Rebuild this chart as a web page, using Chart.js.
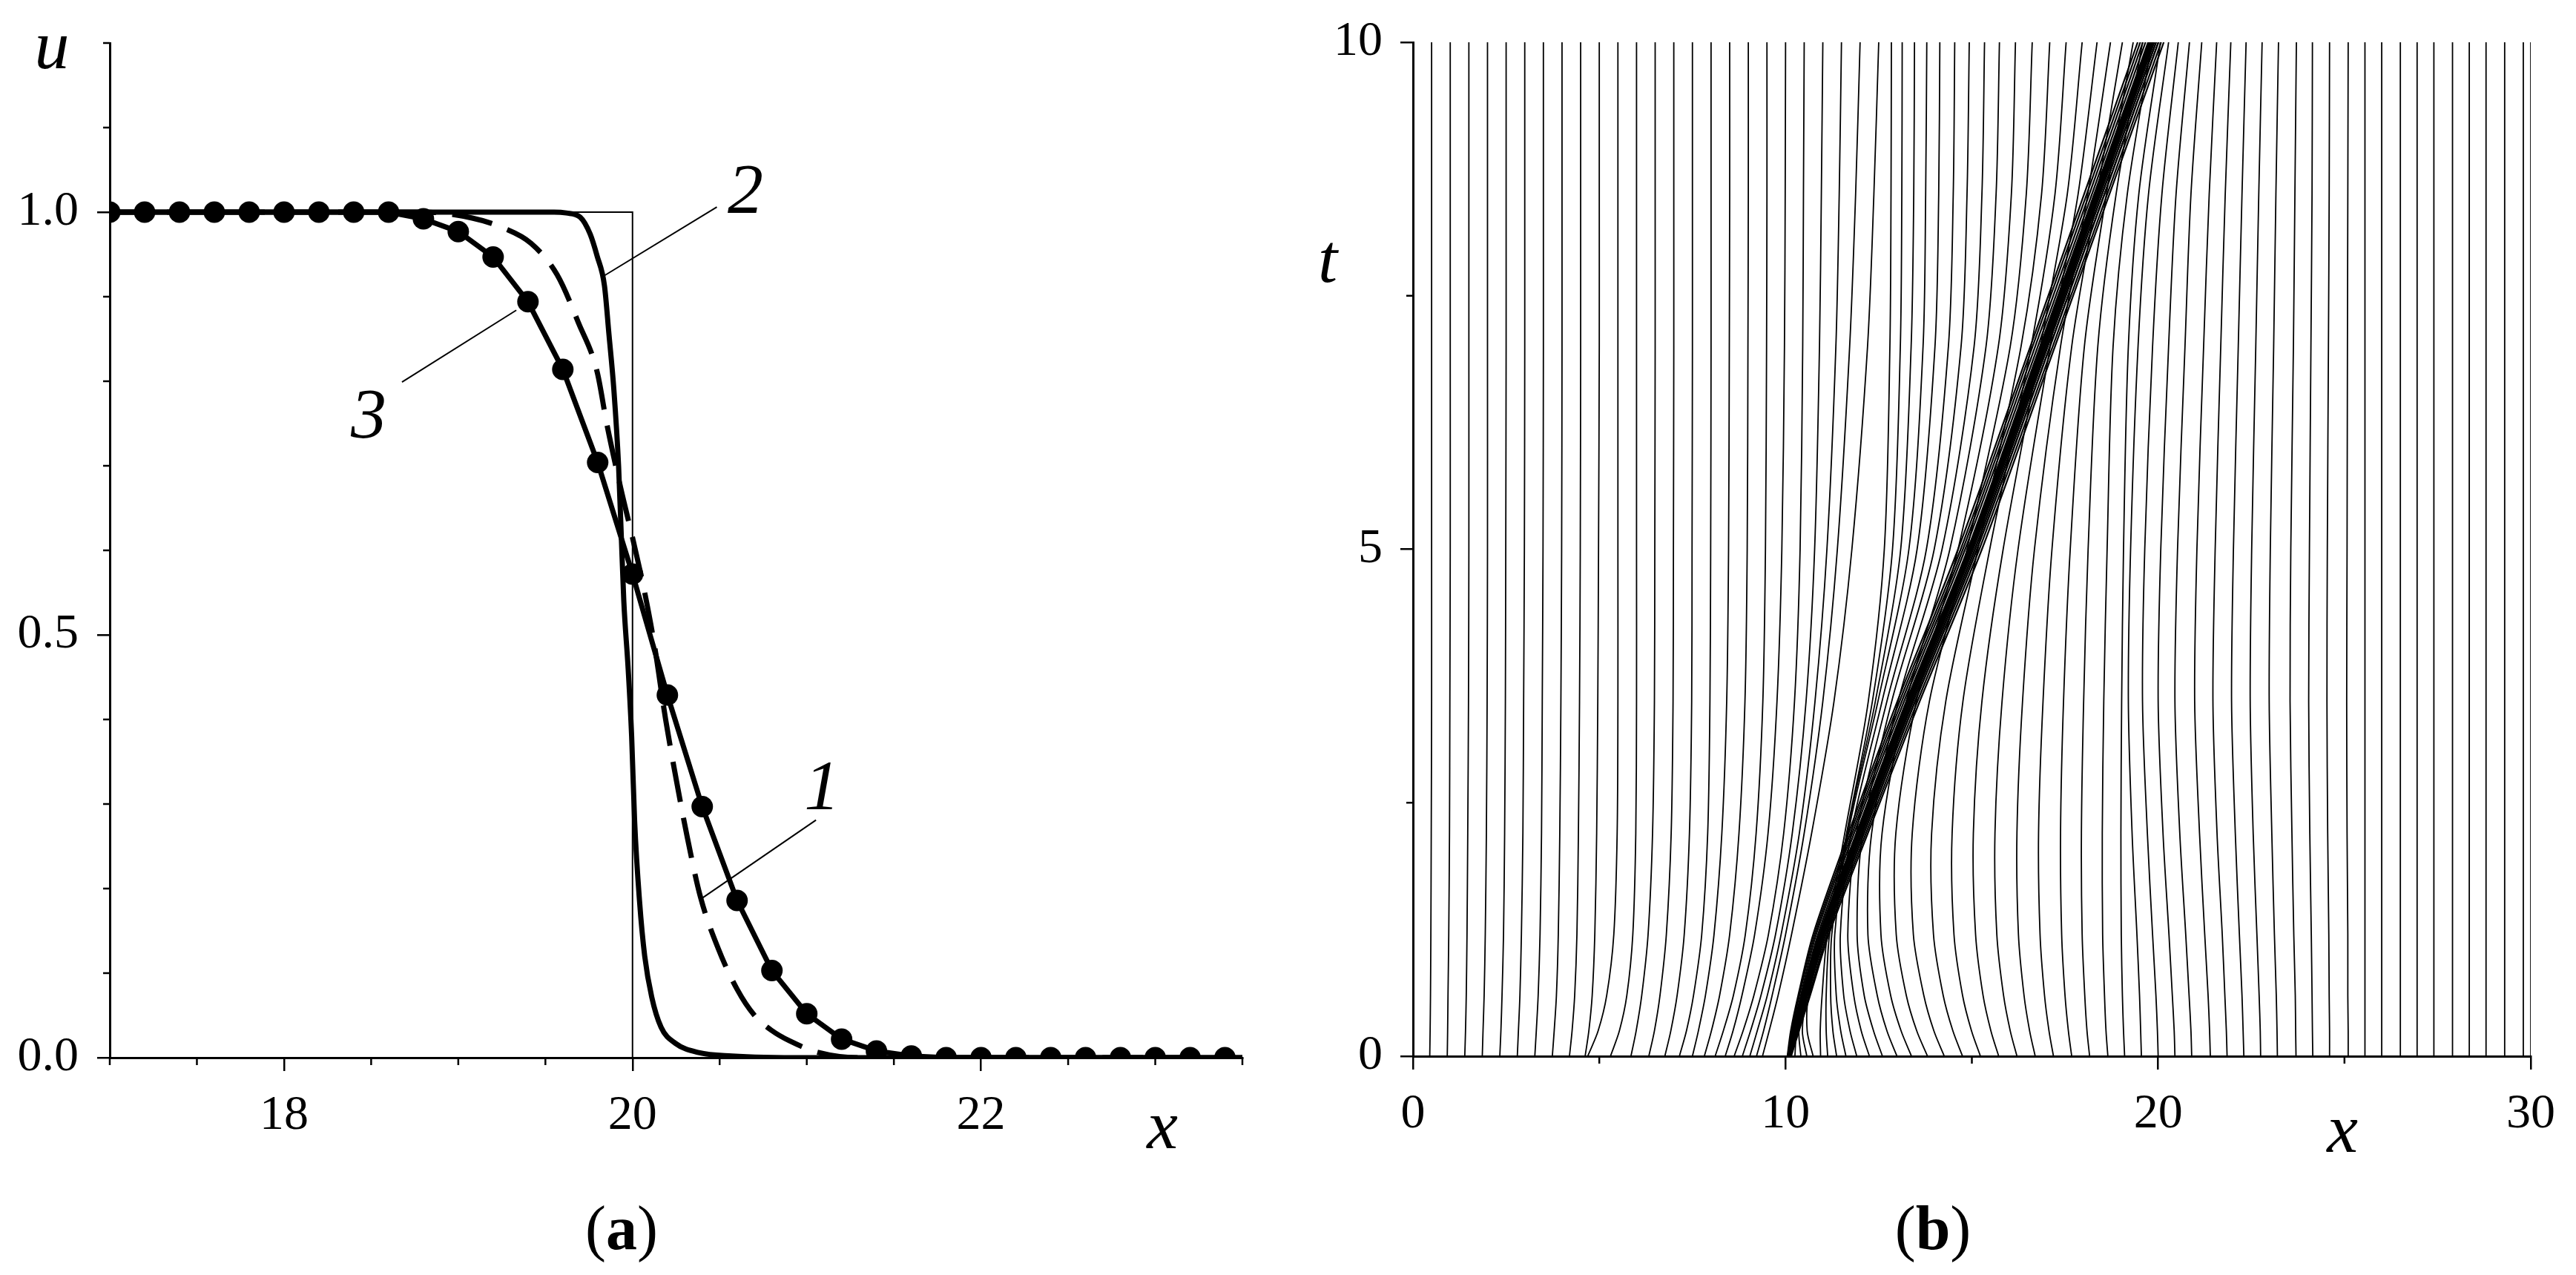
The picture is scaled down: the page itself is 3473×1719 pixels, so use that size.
<!DOCTYPE html>
<html>
<head>
<meta charset="utf-8">
<script src="https://cdn.jsdelivr.net/npm/chart.js@4.4.1/dist/chart.umd.min.js"></script>
<style>
  html, body { margin: 0; padding: 0; background: #fff; }
  #wrap { position: relative; width: 3473px; height: 1719px; overflow: hidden; background: #fff; }
  canvas { position: absolute; top: 0; }
  #chartA { left: 0; }
  #chartB { left: 1770px; }
</style>
</head>
<body>
<div id="wrap">
  <canvas id="chartA" width="1770" height="1719"></canvas>
  <canvas id="chartB" width="1703" height="1719"></canvas>
</div>
<script>
// ---------- panel (a): profiles u(x) ----------
const stepX = [17, 20, 20, 23.5];
const stepU = [1, 1, 0, 0];

const curve2X = [17, 19.55, 19.62, 19.7, 19.757, 19.797, 19.839, 19.865, 19.893, 19.92, 19.935, 19.95, 19.975, 19.995, 20.012, 20.04, 20.07, 20.11, 20.164, 20.246, 20.38, 20.57, 21, 23.5];
const curve2U = [1, 1, 0.999, 0.994, 0.974, 0.948, 0.913, 0.855, 0.79, 0.7, 0.62, 0.54, 0.46, 0.38, 0.28, 0.186, 0.12, 0.072, 0.036, 0.017, 0.006, 0.002, 0, 0];

const dashedX = [17, 18.8, 19.08, 19.25, 19.418, 19.567, 19.69, 19.797, 19.852, 19.933, 20.0, 20.07, 20.124, 20.19, 20.25, 20.314, 20.39, 20.49, 20.6, 20.7, 20.8, 20.9, 21.07, 21.3, 23.5];
const dashedU = [1, 1, 0.993, 0.982, 0.963, 0.926, 0.869, 0.811, 0.75, 0.673, 0.615, 0.55, 0.49, 0.4, 0.33, 0.261, 0.19, 0.13, 0.081, 0.05, 0.032, 0.02, 0.006, 0, 0];

const dotX = [17, 17.2, 17.4, 17.6, 17.8, 18, 18.2, 18.4, 18.6, 18.8, 19, 19.2, 19.4, 19.6, 19.8, 20, 20.2, 20.4, 20.6, 20.8, 21, 21.2, 21.4, 21.6, 21.8, 22, 22.2, 22.4, 22.6, 22.8, 23, 23.2, 23.4];
const dotU = [1, 1, 1, 1, 1, 1, 1, 1, 1, 0.992, 0.977, 0.947, 0.894, 0.814, 0.704, 0.572, 0.429, 0.297, 0.186, 0.103, 0.052, 0.022, 0.008, 0.002, 0, 0, 0, 0, 0, 0, 0, 0, 0];

const aMajorX = [18, 20, 22];
const aMinorX = [17, 17.5, 18.5, 19, 19.5, 20.5, 21, 21.5, 22.5, 23, 23.5];
const aMajorU = [0, 0.5, 1];
const aMinorU = [0.1, 0.2, 0.3, 0.4, 0.6, 0.7, 0.8, 0.9, 1.1, 1.2];

// curve numbers with leader lines
const curveNames = ['1', '2', '3'];
const leaderFromX = [20.395, 19.839, 19.333];
const leaderFromU = [0.188, 0.925, 0.884];
const leaderToX = [21.053, 20.484, 18.677];
const leaderToU = [0.281, 1.006, 0.799];
const nameX = [21.087, 20.648, 18.486];
const nameU = [0.322, 1.027, 0.761];

// ---------- panel (b): lines x(t), one row per line, one column per t level ----------
const tLevels = [0, 0.25, 0.6, 1.2, 2.2, 3.5, 5, 7, 8.5, 10];

// lines that start left of the shock
const leftLines = [
  [0.45, 0.46, 0.47, 0.48, 0.49, 0.5, 0.5, 0.5, 0.5, 0.5],
  [0.92, 0.93, 0.94, 0.96, 0.98, 0.99, 1.0, 1.0, 1.0, 1.0],
  [1.39, 1.41, 1.43, 1.45, 1.47, 1.49, 1.5, 1.5, 1.5, 1.5],
  [1.86, 1.88, 1.91, 1.94, 1.97, 1.99, 2.0, 2.0, 2.0, 2.0],
  [2.33, 2.36, 2.39, 2.43, 2.46, 2.48, 2.49, 2.5, 2.5, 2.5],
  [2.8, 2.83, 2.87, 2.91, 2.95, 2.97, 2.99, 3.0, 3.0, 3.0],
  [3.27, 3.31, 3.36, 3.41, 3.45, 3.47, 3.49, 3.5, 3.5, 3.5],
  [3.74, 3.79, 3.85, 3.9, 3.94, 3.97, 3.99, 4.0, 4.0, 4.0],
  [4.2, 4.27, 4.34, 4.4, 4.44, 4.47, 4.49, 4.5, 4.5, 4.5],
  [4.62, 4.72, 4.81, 4.88, 4.93, 4.96, 4.98, 5.0, 5.0, 5.0],
  [4.69, 4.97, 5.2, 5.39, 5.48, 5.5, 5.5, 5.5, 5.5, 5.5],
  [5.3, 5.54, 5.74, 5.9, 5.98, 6.0, 6.0, 6.0, 6.0, 6.0],
  [5.85, 5.99, 6.14, 6.31, 6.43, 6.48, 6.49, 6.5, 6.5, 6.5],
  [6.33, 6.48, 6.63, 6.8, 6.93, 6.98, 6.99, 7.0, 7.0, 7.0],
  [6.76, 6.92, 7.09, 7.28, 7.42, 7.48, 7.49, 7.5, 7.5, 7.5],
  [7.15, 7.34, 7.53, 7.75, 7.91, 7.97, 7.99, 8.0, 8.0, 8.0],
  [7.5, 7.66, 7.85, 8.08, 8.29, 8.42, 8.47, 8.49, 8.5, 8.5],
  [7.82, 8.01, 8.23, 8.5, 8.75, 8.91, 8.97, 8.99, 9.0, 9.0],
  [8.11, 8.33, 8.6, 8.92, 9.21, 9.39, 9.46, 9.49, 9.5, 9.5],
  [8.38, 8.59, 8.83, 9.17, 9.53, 9.77, 9.9, 9.97, 9.99, 10.0],
  [8.62, 8.86, 9.15, 9.54, 9.95, 10.24, 10.39, 10.46, 10.48, 10.5],
  [8.84, 9.06, 9.34, 9.73, 10.18, 10.55, 10.78, 10.91, 10.96, 11.0],
  [9.04, 9.24, 9.51, 9.88, 10.37, 10.79, 11.11, 11.35, 11.44, 11.5],
  [9.22, 9.41, 9.64, 10.0, 10.5, 11.0, 11.39, 11.72, 11.88, 12.0],
  [9.38, 9.56, 9.8, 10.16, 10.7, 11.3, 11.78, 12.2, 12.37, 12.5]
];

// lines that stay inside the shock layer
const bundleLines = [
  [10.05, 10.14, 10.34, 10.74, 11.69, 13.0, 14.63, 16.57, 18.01, 19.45],
  [10.06, 10.17, 10.37, 10.78, 11.74, 13.06, 14.7, 16.63, 18.08, 19.52],
  [10.07, 10.19, 10.41, 10.82, 11.79, 13.12, 14.76, 16.7, 18.15, 19.59],
  [10.08, 10.21, 10.44, 10.87, 11.84, 13.18, 14.82, 16.77, 18.22, 19.66],
  [10.09, 10.23, 10.47, 10.91, 11.9, 13.24, 14.89, 16.83, 18.28, 19.73],
  [10.1, 10.25, 10.5, 10.95, 11.95, 13.3, 14.95, 16.9, 18.35, 19.8],
  [10.11, 10.27, 10.53, 10.99, 12.0, 13.36, 15.01, 16.97, 18.42, 19.87],
  [10.12, 10.29, 10.56, 11.03, 12.06, 13.42, 15.08, 17.03, 18.49, 19.94],
  [10.13, 10.31, 10.59, 11.08, 12.11, 13.48, 15.14, 17.1, 18.56, 20.01],
  [10.14, 10.33, 10.63, 11.12, 12.16, 13.54, 15.2, 17.17, 18.63, 20.08],
  [10.15, 10.36, 10.66, 11.16, 12.21, 13.6, 15.27, 17.23, 18.69, 20.15]
];
const bundleCore = [10.1, 10.25, 10.5, 10.95, 11.95, 13.3, 14.95, 16.9, 18.35, 19.8];

// lines starting just right of the shock that join its right edge
const joinLines = [
  [10.25, 10.3, 10.53, 10.98, 11.99, 13.34, 14.99, 16.95, 18.4, 19.85],
  [10.41, 10.36, 10.55, 11.01, 12.03, 13.39, 15.04, 17.0, 18.45, 19.9],
  [10.57, 10.45, 10.58, 11.04, 12.06, 13.43, 15.09, 17.04, 18.5, 19.95],
  [10.74, 10.58, 10.62, 11.07, 12.1, 13.47, 15.13, 17.09, 18.55, 20.0]
];

// lines that the shock overtakes (right to left)
const crossLines = [
  [10.94, 10.93, 10.98, 11.12, 11.59, 12.22, 12.65, 12.8, 12.83, 12.84],
  [11.13, 11.09, 11.09, 11.18, 11.64, 12.33, 12.87, 13.08, 13.12, 13.13],
  [11.37, 11.27, 11.21, 11.24, 11.65, 12.41, 13.09, 13.37, 13.44, 13.46],
  [11.62, 11.48, 11.36, 11.32, 11.68, 12.48, 13.31, 13.69, 13.76, 13.79],
  [11.91, 11.73, 11.56, 11.47, 11.76, 12.59, 13.53, 14.01, 14.11, 14.14],
  [12.25, 12.03, 11.83, 11.67, 11.9, 12.72, 13.78, 14.37, 14.5, 14.54],
  [12.6, 12.36, 12.11, 11.92, 12.07, 12.85, 13.99, 14.71, 14.87, 14.93],
  [12.99, 12.72, 12.46, 12.21, 12.31, 13.02, 14.2, 15.06, 15.27, 15.34],
  [13.38, 13.1, 12.82, 12.56, 12.59, 13.24, 14.41, 15.38, 15.65, 15.74],
  [13.81, 13.52, 13.24, 12.97, 12.96, 13.51, 14.63, 15.71, 16.06, 16.17],
  [14.26, 13.98, 13.71, 13.43, 13.4, 13.86, 14.87, 16.03, 16.46, 16.62],
  [14.75, 14.49, 14.23, 13.97, 13.92, 14.3, 15.16, 16.32, 16.87, 17.09],
  [15.23, 14.99, 14.75, 14.52, 14.47, 14.76, 15.48, 16.59, 17.23, 17.53],
  [15.72, 15.51, 15.3, 15.1, 15.04, 15.27, 15.84, 16.84, 17.56, 17.96],
  [16.21, 16.03, 15.85, 15.67, 15.62, 15.81, 16.24, 17.1, 17.85, 18.36],
  [16.7, 16.55, 16.4, 16.25, 16.21, 16.36, 16.68, 17.38, 18.11, 18.72],
  [17.19, 17.07, 16.95, 16.83, 16.79, 16.91, 17.15, 17.68, 18.36, 19.04],
  [17.68, 17.59, 17.5, 17.41, 17.38, 17.46, 17.64, 18.02, 18.61, 19.33],
  [18.16, 18.09, 18.03, 17.96, 17.94, 18.0, 18.12, 18.38, 18.87, 19.58],
  [18.65, 18.6, 18.56, 18.51, 18.5, 18.54, 18.63, 18.79, 19.17, 19.83],
  [19.1, 19.07, 19.04, 19.01, 19.0, 19.02, 19.07, 19.2, 19.48, 20.06]
];

// lines still ahead of the shock at t = 10
const rightLines = [
  [19.55, 19.53, 19.5, 19.43, 19.3, 19.2, 19.26, 19.46, 19.74, 20.28],
  [20.0, 19.98, 19.94, 19.85, 19.71, 19.58, 19.64, 19.85, 20.1, 20.54],
  [20.45, 20.43, 20.38, 20.29, 20.13, 20.0, 20.07, 20.28, 20.48, 20.84],
  [20.9, 20.88, 20.83, 20.74, 20.58, 20.45, 20.52, 20.72, 20.88, 21.17],
  [21.4, 21.38, 21.34, 21.25, 21.11, 20.98, 21.04, 21.22, 21.37, 21.57],
  [21.85, 21.83, 21.79, 21.72, 21.58, 21.47, 21.53, 21.68, 21.8, 21.95],
  [22.3, 22.28, 22.25, 22.18, 22.07, 21.97, 22.02, 22.15, 22.25, 22.36],
  [22.75, 22.74, 22.71, 22.65, 22.55, 22.47, 22.51, 22.62, 22.7, 22.79],
  [23.2, 23.19, 23.17, 23.12, 23.05, 22.98, 23.01, 23.1, 23.16, 23.23],
  [23.7, 23.69, 23.68, 23.64, 23.59, 23.54, 23.56, 23.63, 23.67, 23.71],
  [24.15, 24.14, 24.13, 24.11, 24.07, 24.04, 24.06, 24.1, 24.13, 24.14],
  [24.6, 24.6, 24.59, 24.58, 24.55, 24.53, 24.54, 24.57, 24.59, 24.6],
  [25.1, 25.1, 25.09, 25.09, 25.07, 25.06, 25.07, 25.08, 25.09, 25.1],
  [25.55, 25.55, 25.55, 25.55, 25.55, 25.55, 25.55, 25.55, 25.55, 25.55],
  [26.0, 26.0, 26.0, 26.0, 26.0, 26.0, 26.0, 26.0, 26.0, 26.0],
  [26.5, 26.5, 26.5, 26.5, 26.5, 26.5, 26.5, 26.5, 26.5, 26.5],
  [26.95, 26.95, 26.95, 26.95, 26.95, 26.95, 26.95, 26.95, 26.95, 26.95],
  [27.4, 27.4, 27.4, 27.4, 27.4, 27.4, 27.4, 27.4, 27.4, 27.4],
  [27.9, 27.9, 27.9, 27.9, 27.9, 27.9, 27.9, 27.9, 27.9, 27.9],
  [28.35, 28.35, 28.35, 28.35, 28.35, 28.35, 28.35, 28.35, 28.35, 28.35],
  [28.8, 28.8, 28.8, 28.8, 28.8, 28.8, 28.8, 28.8, 28.8, 28.8],
  [29.3, 29.3, 29.3, 29.3, 29.3, 29.3, 29.3, 29.3, 29.3, 29.3],
  [29.8, 29.8, 29.8, 29.8, 29.8, 29.8, 29.8, 29.8, 29.8, 29.8],
  [30, 30, 30, 30, 30, 30, 30, 30, 30, 30]
];

const bMajorX = [0, 10, 20, 30];
const bMinorX = [5, 15, 25];
const bMajorT = [0, 5, 10];
const bMinorT = [2.5, 7.5];

// ---------- helpers ----------
const SERIF = '"Liberation Serif", "Times New Roman", Times, serif';
Chart.defaults.font.family = SERIF;
Chart.defaults.color = '#000';
const tickFont = { family: SERIF, size: 66, lineHeight: 1, style: 'normal', weight: 'normal' };

function isIn(v, list) {
  return list.some((m) => Math.abs(v - m) < 1e-6);
}

function pts(xs, ys) {
  return xs.map((x, i) => ({ x: x, y: ys[i] }));
}

function seg(ctx, x1, y1, x2, y2) {
  ctx.beginPath();
  ctx.moveTo(x1, y1);
  ctx.lineTo(x2, y2);
  ctx.stroke();
}

function drawCaption(ctx, letter, cx, baseline, size) {
  const normal = `${size}px ${SERIF}`;
  const bold = `bold ${size}px ${SERIF}`;
  ctx.font = normal;
  const wp = ctx.measureText('(').width;
  const wq = ctx.measureText(')').width;
  ctx.font = bold;
  const wl = ctx.measureText(letter).width;
  let x = cx - (wp + wl + wq) / 2;
  ctx.textAlign = 'left';
  ctx.textBaseline = 'alphabetic';
  ctx.font = normal;
  ctx.fillText('(', x, baseline);
  x += wp;
  ctx.font = bold;
  ctx.fillText(letter, x, baseline);
  x += wl;
  ctx.font = normal;
  ctx.fillText(')', x, baseline);
}

function italic(ctx, s, cx, baseline, size) {
  ctx.font = `italic ${size}px ${SERIF}`;
  ctx.textAlign = 'center';
  ctx.textBaseline = 'alphabetic';
  ctx.fillText(s, cx, baseline);
}

function axisOpts(min, max, step, majors, tickLen, padding, labelFn) {
  return {
    type: 'linear',
    min: min,
    max: max,
    grid: {
      drawOnChartArea: false,
      drawTicks: true,
      tickLength: tickLen,
      tickWidth: 2.5,
      lineWidth: 2.5,
      tickColor: (c) => (c.tick && isIn(c.tick.value, majors) ? '#000' : 'rgba(0,0,0,0)'),
      color: '#000',
    },
    border: { display: true, color: '#000', width: 3 },
    ticks: {
      stepSize: step,
      autoSkip: false,
      maxRotation: 0,
      minRotation: 0,
      padding: padding,
      color: '#000',
      font: tickFont,
      callback: (v) => (isIn(v, majors) ? labelFn(v) : ''),
    },
  };
}

// ---------- chart (a) ----------
const decorA = {
  id: 'decorA',
  afterDraw(chart) {
    const ctx = chart.ctx;
    const xs = chart.scales.x;
    const ys = chart.scales.y;
    const area = chart.chartArea;
    ctx.save();
    ctx.strokeStyle = '#000';
    ctx.fillStyle = '#000';
    ctx.lineWidth = 2.5;
    aMinorX.forEach((v) => {
      const p = xs.getPixelForValue(v);
      seg(ctx, p, area.bottom, p, area.bottom + 10);
    });
    aMinorU.forEach((v) => {
      const p = ys.getPixelForValue(v);
      seg(ctx, area.left, p, area.left - 9, p);
    });
    ctx.lineWidth = 2;
    curveNames.forEach((name, i) => {
      seg(ctx, xs.getPixelForValue(leaderFromX[i]), ys.getPixelForValue(leaderFromU[i]),
        xs.getPixelForValue(leaderToX[i]), ys.getPixelForValue(leaderToU[i]));
      italic(ctx, name, xs.getPixelForValue(nameX[i]), ys.getPixelForValue(nameU[i]) + 32, 96);
    });
    italic(ctx, 'u', 70, 92, 94);
    italic(ctx, 'x', 1567, 1548, 94);
    drawCaption(ctx, 'a', 838, 1684, 84);
    ctx.restore();
  },
};

new Chart(document.getElementById('chartA'), {
  type: 'line',
  data: {
    datasets: [
      {
        data: pts(dotX, dotU),
        borderColor: '#000',
        borderWidth: 7,
        tension: 0,
        pointRadius: 14.5,
        pointBackgroundColor: '#000',
        pointBorderWidth: 0,
      },
      {
        data: pts(curve2X, curve2U),
        borderColor: '#000',
        borderWidth: 7,
        cubicInterpolationMode: 'monotone',
        pointRadius: 0,
      },
      {
        data: pts(dashedX, dashedU),
        borderColor: '#000',
        borderWidth: 7,
        borderDash: [55, 22],
        cubicInterpolationMode: 'monotone',
        pointRadius: 0,
      },
      {
        data: pts(stepX, stepU),
        borderColor: '#000',
        borderWidth: 2,
        tension: 0,
        pointRadius: 0,
      },
    ],
  },
  options: {
    responsive: false,
    animation: false,
    events: [],
    layout: { padding: { left: 0, right: 95, top: 34, bottom: 0 } },
    plugins: { legend: { display: false }, tooltip: { enabled: false } },
    scales: {
      x: Object.assign(axisOpts(17, 23.5, 0.5, aMajorX, 18, 28, (v) => String(v)), {
        afterFit: (s) => { s.height = 293; },
      }),
      y: Object.assign(axisOpts(0, 1.2, 0.1, aMajorU, 17, 25, (v) => v.toFixed(1)), {
        afterFit: (s) => { s.width = 148; },
      }),
    },
  },
  plugins: [decorA],
});

// ---------- chart (b) ----------
const decorB = {
  id: 'decorB',
  afterDraw(chart) {
    const ctx = chart.ctx;
    const xs = chart.scales.x;
    const ys = chart.scales.y;
    const area = chart.chartArea;
    ctx.save();
    ctx.strokeStyle = '#000';
    ctx.fillStyle = '#000';
    ctx.lineWidth = 2.5;
    bMinorX.forEach((v) => {
      const p = xs.getPixelForValue(v);
      seg(ctx, p, area.bottom, p, area.bottom + 10);
    });
    bMinorT.forEach((v) => {
      const p = ys.getPixelForValue(v);
      seg(ctx, area.left, p, area.left - 9, p);
    });
    const off = 1770;
    italic(ctx, 't', 1790 - off, 380, 94);
    italic(ctx, 'x', 3158 - off, 1553, 94);
    drawCaption(ctx, 'b', 2606 - off, 1684, 84);
    ctx.restore();
  },
};

function lineSet(xs, width) {
  return {
    data: pts(xs, tLevels),
    showLine: true,
    borderColor: '#000',
    borderWidth: width,
    pointRadius: 0,
    tension: 0.3,
  };
}

const bSets = [];
leftLines.forEach((l) => bSets.push(lineSet(l, 1.8)));
bundleLines.forEach((l) => bSets.push(lineSet(l, 2.2)));
bSets.push(lineSet(bundleCore, 6));
joinLines.forEach((l) => bSets.push(lineSet(l, 1.8)));
crossLines.forEach((l) => bSets.push(lineSet(l, 1.8)));
rightLines.forEach((l) => bSets.push(lineSet(l, 1.8)));

new Chart(document.getElementById('chartB'), {
  type: 'scatter',
  data: { datasets: bSets },
  options: {
    responsive: false,
    animation: false,
    events: [],
    layout: { padding: { left: 0, right: 52, top: 38, bottom: 0 } },
    plugins: { legend: { display: false }, tooltip: { enabled: false } },
    scales: {
      x: Object.assign(axisOpts(0, 30, 5, bMajorX, 18, 28, (v) => String(v)), {
        afterFit: (s) => { s.height = 295; },
      }),
      y: Object.assign(axisOpts(0, 10, 2.5, bMajorT, 17, 24, (v) => String(v)), {
        afterFit: (s) => { s.width = 135; },
      }),
    },
  },
  plugins: [decorB],
});
</script>
</body>
</html>
